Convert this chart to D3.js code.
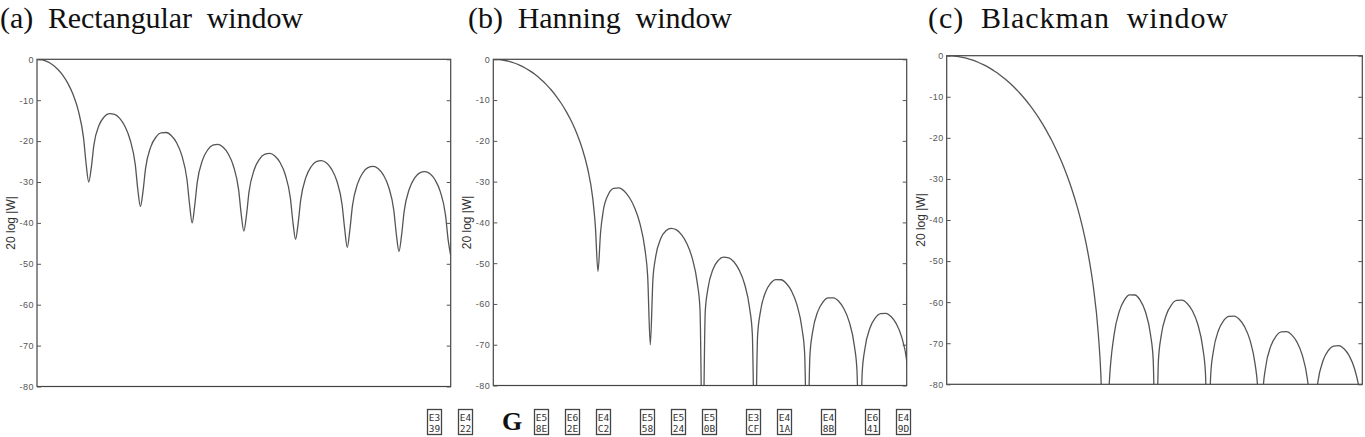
<!DOCTYPE html>
<html><head><meta charset="utf-8">
<script src="https://cdn.jsdelivr.net/npm/d3@7"></script>
<style>body{margin:0;background:#fff;} svg{display:block}</style>
</head><body>
<svg id="chart" width="1365" height="437"></svg>
<script>
// frequency in bins (rectangular-window first null = 1)
const freqBins = [
  0,0.1,0.2,0.3,0.4,0.5,0.6,0.7,0.8,0.9,0.95,1,1.05,
  1.1,1.2,1.3,1.4,1.5,1.6,1.7,1.8,1.9,1.95,2,2.05,
  2.1,2.2,2.3,2.4,2.5,2.6,2.7,2.8,2.9,2.95,3,3.05,
  3.1,3.2,3.3,3.4,3.5,3.6,3.7,3.8,3.9,3.95,4,4.05,
  4.1,4.2,4.3,4.4,4.5,4.6,4.7,4.8,4.9,4.95,5,5.05,
  5.1,5.2,5.3,5.4,5.5,5.6,5.7,5.8,5.9,5.95,6,6.05,
  6.1,6.2,6.3,6.4,6.5,6.6,6.7,6.8,6.9,6.95,7,7.05,
  7.1,7.2,7.3,7.4,7.5,7.6,7.7,7.8,7.9,7.95,8
];
const rectangularDb = [
  0,-0.14,-0.58,-1.33,-2.42,-3.92,-5.94,-8.69,-12.62,-19.23,-25.6,-30,-26.5,
  -20.97,-16.14,-14.06,-13.30,-13.46,-14.46,-16.39,-19.66,-25.7,-31.9,-36,-32.3,
  -26.6,-21.41,-19.02,-17.98,-17.90,-18.68,-20.41,-23.50,-29.39,-35.45,-40,-35.74,
  -29.97,-24.66,-22.15,-21.01,-20.82,-21.50,-23.15,-26.15,-31.97,-37.99,-42,-38.2,
  -32.4,-27.02,-24.45,-23.25,-23.01,-23.63,-25.23,-28.18,-33.95,-39.95,-44,-40.1,
  -34.3,-28.88,-26.27,-25.03,-24.75,-25.34,-26.90,-29.83,-35.56,-41.5,-46,-41.7,
  -35.85,-30.41,-27.77,-26.50,-26.20,-26.77,-28.31,-31.21,-36.92,-42.9,-47,-43.0,
  -37.17,-31.70,-29.05,-27.76,-27.44,-28.00,-29.51,-32.40,-38.1,-44.1,-48
];
const hanningDb = [
  0,-0.06,-0.23,-0.51,-0.91,-1.42,-2.06,-2.84,-3.75,-4.81,-5.39,-6.02,-6.69,
  -7.41,-9.01,-10.84,-12.95,-15.40,-18.32,-21.92,-26.66,-34.03,-40.85,-52,-42.4,
  -37.26,-33.10,-31.67,-31.53,-32.30,-33.89,-36.38,-40.20,-46.79,-53.18,-70,-54.1,
  -48.67,-43.97,-42.05,-41.48,-41.84,-43.05,-45.22,-48.72,-55.02,-61.28,-100,-61.95,
  -56.38,-51.44,-49.31,-48.53,-48.70,-49.72,-51.71,-55.04,-61.19,-67.37,-100,-67.9,
  -62.26,-57.19,-54.93,-54.02,-54.07,-54.99,-56.86,-60.11,-66.14,-72.23,-100,-72.73,
  -67.03,-61.88,-59.52,-58.53,-58.51,-59.35,-61.16,-64.32,-70.29,-76.4,-100,-76.75,
  -71.05,-65.82,-63.42,-62.37,-62.29,-63.08,-64.82,-67.94,-73.87,-80.07,-100
];
const blackmanDb = [
  0,-0.04,-0.18,-0.40,-0.70,-1.10,-1.59,-2.17,-2.85,-3.63,-4.05,-4.51,-4.99,
  -5.49,-6.59,-7.80,-9.14,-10.61,-12.23,-14.00,-15.94,-18.06,-19.23,-20.42,-21.68,
  -23.03,-25.89,-29.11,-32.74,-36.93,-41.86,-47.88,-55.77,-67.74,-77.98,-100,-100,
  -82.2,-68.09,-62.32,-59.46,-58.24,-58.26,-59.52,-62.29,-67.99,-74.0,-100,-74.2,
  -68.41,-63.11,-60.64,-59.59,-59.52,-60.32,-62.10,-65.26,-71.24,-77.35,-100,-77.7,
  -72.03,-66.84,-64.46,-63.45,-63.40,-64.23,-66.02,-69.19,-75.15,-81.2,-100,-81.65,
  -75.91,-70.70,-68.29,-67.24,-67.17,-67.97,-69.73,-72.85,-78.78,-84.9,-100,-85.2,
  -79.47,-74.21,-71.77,-70.69,-70.58,-71.35,-73.06,-76.16,-82.06,-88.0,-100
];
const panelTitles = ["(a)  Rectangular  window", "(b)  Hanning  window", "(c)  Blackman  window"];
const yTicks = [0,-10,-20,-30,-40,-50,-60,-70,-80];
const yDomain = [-80, 0];
const xDomainMax = [8, 7.9, 7.95];
const yAxisLabel = "20 log |W|";
const captionGlyphs = ["E339","E422"," ","G","E58E","E62E","E4C2"," ","E558","E524","E50B"," ","E3CF","E41A"," ","E48B"," ","E641","E49D"];

// layout (pixels)
const layout = [
  {left:37,    right:450.7,  top:59.3, bottom:386.5, titleX:0,   titleW:303},
  {left:493.3, right:906.7,  top:59.3, bottom:385.5, titleX:468, titleW:264},
  {left:946.7, right:1362.3, top:55.7, bottom:384.3, titleX:928, titleW:300}
];
const series = [rectangularDb, hanningDb, blackmanDb];

const svg = d3.select("#chart");
svg.append("rect").attr("width",1365).attr("height",437).attr("fill","#fff");

layout.forEach((L, pi) => {
  const x = d3.scaleLinear().domain([0, xDomainMax[pi]]).range([L.left, L.right]);
  const y = d3.scaleLinear().domain(yDomain).range([L.bottom, L.top]);
  const g = svg.append("g");

  // title
  g.append("text")
    .attr("x", L.titleX).attr("y", 28)
    .attr("textLength", L.titleW).attr("lengthAdjust", "spacing")
    .style("white-space", "pre")
    .attr("font-family", "'Liberation Serif','DejaVu Serif',serif")
    .attr("font-size", 30).attr("fill", "#111")
    .text(panelTitles[pi]);

  const clipId = "clip" + pi;
  svg.append("clipPath").attr("id", clipId).append("rect")
    .attr("x", L.left).attr("y", L.top)
    .attr("width", L.right - L.left).attr("height", L.bottom - L.top);

  // curve
  const line = d3.line()
    .x((d, i) => x(freqBins[i]))
    .y(d => y(d))
    .curve(d3.curveMonotoneX);
  g.append("path")
    .attr("clip-path", `url(#${clipId})`)
    .attr("d", line(series[pi]))
    .attr("fill", "none").attr("stroke", "#555").attr("stroke-width", 1.3);

  // frame
  g.append("rect")
    .attr("x", L.left).attr("y", L.top)
    .attr("width", L.right - L.left).attr("height", L.bottom - L.top)
    .attr("fill", "none").attr("stroke", "#444").attr("stroke-width", 1.2);

  // left axis
  const ax = g.append("g").attr("transform", `translate(${L.left},0)`)
    .call(d3.axisLeft(y).tickValues(yTicks).tickSizeInner(-4).tickSizeOuter(0)
      .tickPadding(3).tickFormat(d => String(d)));
  ax.select(".domain").remove();
  ax.selectAll(".tick line").attr("stroke", "#555");
  ax.selectAll(".tick text")
    .attr("font-family", "'Liberation Sans',Arial,sans-serif")
    .attr("font-size", 9).attr("fill", "#555").attr("letter-spacing", 0.5);

  // right axis (ticks only)
  const ar = g.append("g").attr("transform", `translate(${L.right},0)`)
    .call(d3.axisRight(y).tickValues(yTicks).tickSizeInner(-4).tickSizeOuter(0).tickFormat(""));
  ar.select(".domain").remove();
  ar.selectAll(".tick line").attr("stroke", "#555");

  // y label
  const cy = (L.top + L.bottom) / 2;
  g.append("text")
    .attr("transform", `translate(${L.left - 22},${cy}) rotate(-90)`)
    .attr("text-anchor", "middle")
    .attr("font-family", "'Liberation Sans',Arial,sans-serif")
    .attr("font-size", 12).attr("fill", "#333")
    .text(yAxisLabel);
});

// caption (rendered as the missing-glyph hex boxes seen in the reference)
const cap = svg.append("g");
let cx = 427;
captionGlyphs.forEach(c => {
  if (c === " ") { cx += 13; return; }
  if (c === "G") {
    cap.append("text").attr("x", cx).attr("y", 430)
      .attr("font-family", "'Liberation Serif','DejaVu Serif',serif")
      .attr("font-size", 26).attr("font-weight", "bold").attr("fill", "#111").text("G");
    cx += 32; return;
  }
  cap.append("rect").attr("x", cx + 0.5).attr("y", 409.5).attr("width", 14).attr("height", 25)
    .attr("fill", "none").attr("stroke", "#444").attr("stroke-width", 1.3);
  cap.append("text").attr("x", cx + 7.5).attr("y", 420.5).attr("text-anchor", "middle")
    .attr("font-family", "'DejaVu Sans Mono',monospace").attr("font-size", 9.5).attr("fill", "#333")
    .text(c.slice(0, 2));
  cap.append("text").attr("x", cx + 7.5).attr("y", 431.5).attr("text-anchor", "middle")
    .attr("font-family", "'DejaVu Sans Mono',monospace").attr("font-size", 9.5).attr("fill", "#333")
    .text(c.slice(2));
  cx += 31;
});
</script>
</body></html>
